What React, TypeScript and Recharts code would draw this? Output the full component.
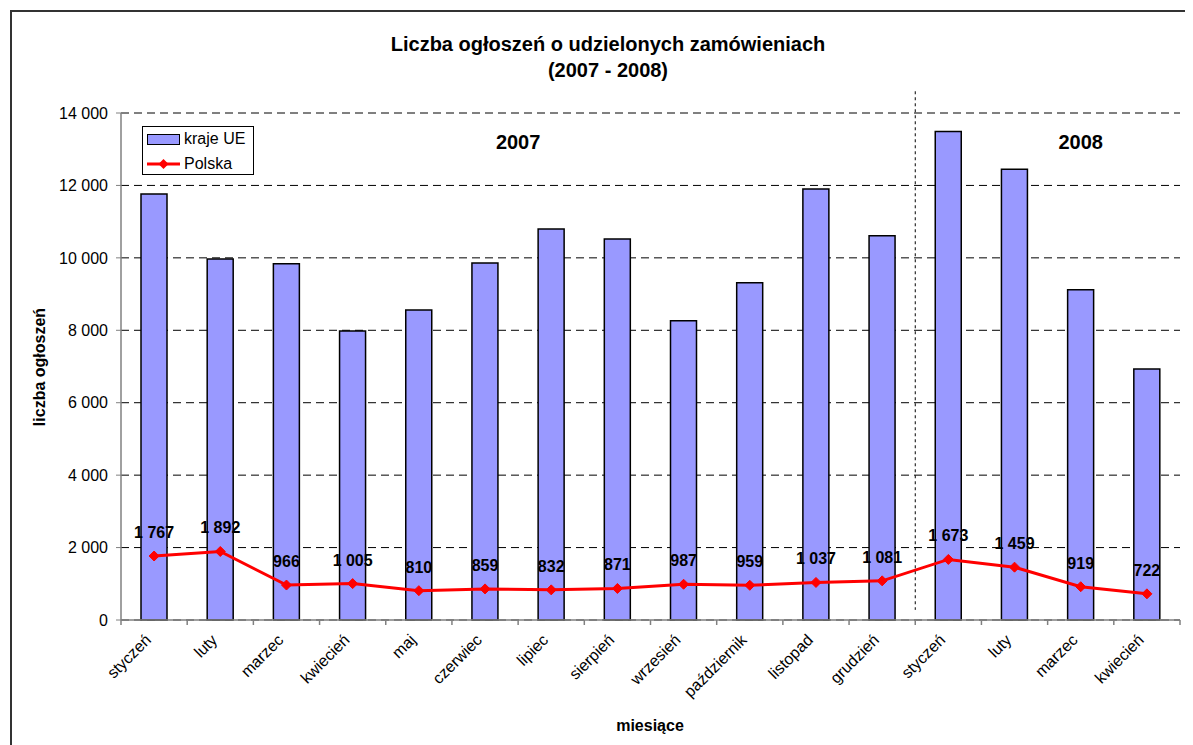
import {
  ComposedChart,
  Bar,
  Line,
  XAxis,
  YAxis,
  CartesianGrid,
  ReferenceLine,
  ReferenceDot,
  LabelList,
} from 'recharts';

const months = [
  'styczeń', 'luty', 'marzec', 'kwiecień', 'maj', 'czerwiec', 'lipiec', 'sierpień',
  'wrzesień', 'październik', 'listopad', 'grudzień', 'styczeń', 'luty', 'marzec', 'kwiecień',
];
const ueValues = [11760, 9970, 9840, 7980, 8560, 9860, 10800, 10520, 8260, 9310, 11900, 10610, 13490, 12450, 9120, 6930];
const plValues = [1767, 1892, 966, 1005, 810, 859, 832, 871, 987, 959, 1037, 1081, 1673, 1459, 919, 722];
const yTicks = [0, 2000, 4000, 6000, 8000, 10000, 12000, 14000];
const yearLabels = [
  { year: '2007', x: 6, y: 13200 },
  { year: '2008', x: 14.5, y: 13200 },
];
const yearSplit = 12;

// pos = middle of each month's slot on a 0..16 numeric scale
const data = months.map((m, i) => ({ month: m, ue: ueValues[i], pl: plValues[i], pos: i + 0.5 }));

const FONT = 'Arial, "Liberation Sans", Helvetica, sans-serif';
const fmt = (v: number) => String(v).replace(/\B(?=(\d{3})+(?!\d))/g, ' ');

const Diamond = (props: any) => {
  const { cx, cy } = props;
  if (cx == null || cy == null) return null;
  const r = 5;
  return (
    <path
      d={`M${cx},${cy - r} L${cx + r},${cy} L${cx},${cy + r} L${cx - r},${cy} Z`}
      fill="#FF0000"
      stroke="#FF0000"
    />
  );
};

const MonthTick = (props: any) => {
  const { x, y, payload, index, width } = props;
  const band = (width || 1059) / months.length;
  const left = x - band / 2;
  return (
    <g>
      <line x1={left} y1={y} x2={left} y2={y + 5} stroke="#808080" strokeWidth={1.5} />
      {index === months.length - 1 && (
        <line x1={x + band / 2} y1={y} x2={x + band / 2} y2={y + 5} stroke="#808080" strokeWidth={1.5} />
      )}
      <text
        x={x - 2}
        y={y + 21}
        transform={`rotate(-45, ${x - 2}, ${y + 21})`}
        textAnchor="end"
        fontSize={16}
        fontFamily={FONT}
        fill="#000"
      >
        {payload.value}
      </text>
    </g>
  );
};

export default function App() {
  return (
    <div
      style={{
        position: 'relative',
        marginTop: 2,
        marginLeft: 2,
        width: 1181,
        height: 733,
        borderLeft: '2px solid #333',
        borderTop: '2px solid #333',
        fontFamily: FONT,
        overflow: 'hidden',
      }}
    >
      <div
        style={{
          position: 'absolute',
          left: 0,
          top: 19,
          width: 1192,
          textAlign: 'center',
          fontSize: 20,
          fontWeight: 'bold',
          lineHeight: '26px',
          color: '#000',
        }}
      >
        Liczba ogłoszeń o udzielonych zamówieniach
        <br />
        (2007 - 2008)
      </div>

      <ComposedChart
        width={1181}
        height={733}
        data={data}
        margin={{ top: 101, right: 13, left: 0, bottom: 0 }}
      >
        <CartesianGrid
          vertical={false}
          stroke="#000"
          strokeDasharray="8 5"
        />
        <XAxis
          dataKey="month"
          interval={0}
          height={125}
          tickLine={false}
          tickSize={0}
          tickMargin={0}
          axisLine={{ stroke: '#808080', strokeWidth: 1.5 }}
          tick={<MonthTick />}
        />
        <XAxis
          xAxisId="pos"
          dataKey="pos"
          type="number"
          domain={[0, 16]}
          allowDataOverflow
          hide
        />
        <YAxis
          width={109}
          domain={[0, 14000]}
          ticks={yTicks}
          interval={0}
          tickFormatter={fmt}
          tickSize={5}
          tickMargin={8}
          tickLine={{ stroke: '#808080' }}
          axisLine={{ stroke: '#808080', strokeWidth: 1.5 }}
          tick={{ fontSize: 16, fill: '#000', fontFamily: FONT }}
        />
        <Bar
          dataKey="ue"
          name="kraje UE"
          fill="#9999FF"
          stroke="#000"
          strokeWidth={1.5}
          barSize={26}
          isAnimationActive={false}
        />
        <Line
          dataKey="pl"
          name="Polska"
          stroke="#FF0000"
          strokeWidth={3}
          dot={<Diamond />}
          activeDot={false}
          isAnimationActive={false}
        >
          <LabelList
            dataKey="pl"
            position="top"
            offset={18}
            formatter={(v: any) => fmt(Number(v))}
            style={{ fontSize: 16, fontWeight: 'bold', fill: '#000', fontFamily: FONT }}
          />
        </Line>
        <ReferenceLine
          xAxisId="pos"
          segment={[{ x: yearSplit, y: 14600 }, { x: yearSplit, y: 280 }]}
          stroke="#000"
          strokeDasharray="3 3"
          ifOverflow="visible"
        />
        {yearLabels.map((l) => (
          <ReferenceDot
            key={l.year}
            xAxisId="pos"
            x={l.x}
            y={l.y}
            r={0}
            fill="none"
            stroke="none"
            label={{
              value: l.year,
              position: 'center',
              fontSize: 20,
              fontWeight: 'bold',
              fill: '#000',
              fontFamily: FONT,
            }}
          />
        ))}
      </ComposedChart>

      <div
        style={{
          position: 'absolute',
          left: 130,
          top: 114,
          width: 110,
          height: 47,
          border: '1px solid #000',
          background: '#fff',
          fontSize: 16,
          color: '#000',
        }}
      >
        <div style={{ position: 'absolute', left: 4, top: 6, display: 'flex', alignItems: 'center', height: 12 }}>
          <div style={{ width: 31, height: 9, background: '#9999FF', border: '1px solid #000' }} />
          <span style={{ marginLeft: 4 }}>kraje UE</span>
        </div>
        <div style={{ position: 'absolute', left: 4, top: 31, display: 'flex', alignItems: 'center', height: 12 }}>
          <svg width={33} height={12}>
            <line x1={0} y1={6} x2={33} y2={6} stroke="#FF0000" strokeWidth={3} />
            <path d="M16.5,1 L21.5,6 L16.5,11 L11.5,6 Z" fill="#FF0000" />
          </svg>
          <span style={{ marginLeft: 4 }}>Polska</span>
        </div>
      </div>

      <div
        style={{
          position: 'absolute',
          left: 28,
          top: 355,
          transform: 'translate(-50%, -50%) rotate(-90deg)',
          whiteSpace: 'nowrap',
          fontSize: 16,
          fontWeight: 'bold',
        }}
      >
        liczba ogłoszeń
      </div>
      <div
        style={{
          position: 'absolute',
          left: 638,
          top: 714,
          transform: 'translate(-50%, -50%)',
          whiteSpace: 'nowrap',
          fontSize: 16,
          fontWeight: 'bold',
        }}
      >
        miesiące
      </div>
    </div>
  );
}
